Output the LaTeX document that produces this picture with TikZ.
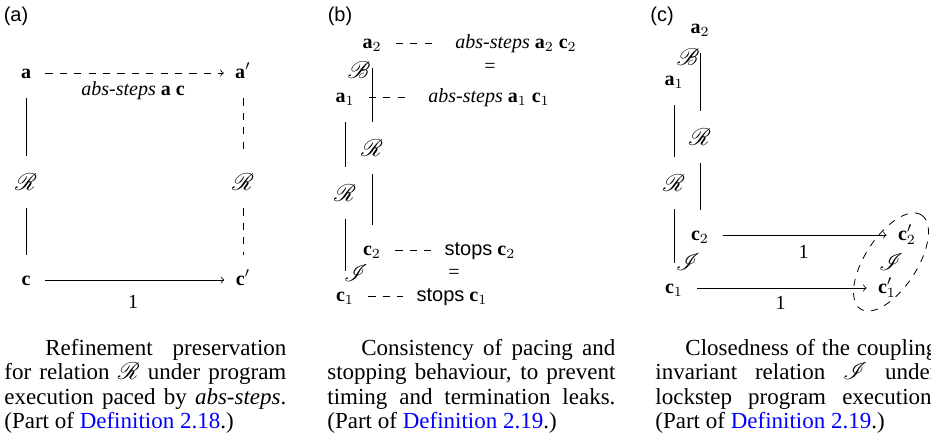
\documentclass[tikz,border=0pt]{standalone}
\usepackage{fontspec}
\setmainfont{Liberation Serif}
\setsansfont{Liberation Sans}
\usepackage{amsmath}
\usepackage{mathrsfs}
\usepackage{tikz}

\newcommand{\vb}[1]{\textbf{#1}}
\newcommand{\abssteps}{\textit{abs-steps}}
\newcommand{\capscr}[1]{\smash{\fontsize{12.8pt}{12pt}\selectfont$\mathscr{#1}$}}

\begin{document}
\begin{tikzpicture}[x=0.5pt, y=-0.5pt,
  st/.style={inner sep=0pt, text height=7pt, text depth=2pt},
  sc/.style={inner sep=0pt, text height=9pt, text depth=1pt,
    font=\fontsize{12.5pt}{15pt}\selectfont},
  tag/.style={inner sep=0pt, font=\sffamily},
  rel/.style={shorten <=8pt, shorten >=8pt},
  dsh/.style={dash pattern=on 3.6pt off 3.6pt},
  mv/.style={->, shorten <=7pt, shorten >=5.5pt},
  tie/.style={dsh, shorten <=7pt, shorten >=#1}, tie/.default=6.5pt,
  captxt/.style={anchor=base west, inner sep=0pt, text width=#1, align=justify,
    font=\fontsize{11.5pt}{12.25pt}\selectfont}]
\useasboundingbox (0,0) rectangle (931,446);

% (a)
\node[tag] (alab) at (16,16) {(a)};
\node[st] (a)   at (26,73)  {\vb{a}};
\node[st] (ap)  at (243,73) {\vb{a}$'$};
\node[sc] (aR)  at (26,182) {$\mathscr{R}$};
\node[sc] (aRp) at (243,182) {$\mathscr{R}$};
\node[st] (c)   at (26,280) {\vb{c}};
\node[st] (cp)  at (243,280) {\vb{c}$'$};
\draw[mv, dsh] (a) -- (ap)
    node[midway, below=4pt, inner sep=0pt] {\abssteps{} \vb{a} \vb{c}};
\draw[mv] (c) -- (cp)
    node[midway, below=7.5pt, inner sep=0pt] {1};
\draw[rel] (a) -- (aR);
\draw[rel] (aR) -- (c);
\draw[rel, dsh] (ap) -- (aRp);
\draw[rel, dsh] (aRp) -- (cp);

% (b)
\node[tag] (blab) at (340,16) {(b)};
\node[st] (b-a2)   at (372,43)  {\vb{a}$_2$};
\node[st] (b-abs2) at (516,43)  {\abssteps{} \vb{a}$_2$ \vb{c}$_2$};
\node[st] (b-eq1)  at (490,67)  {=};
\node[sc] (b-B)    at (359,70)  {$\mathscr{B}$};
\node[st] (b-a1)   at (345,97)  {\vb{a}$_1$};
\node[st] (b-abs1) at (489,97)  {\abssteps{} \vb{a}$_1$ \vb{c}$_1$};
\node[sc] (b-Rr)   at (372,148) {$\mathscr{R}$};
\node[sc] (b-Rl)   at (345,193) {$\mathscr{R}$};
\node[st] (b-c2)   at (372,250) {\vb{c}$_2$};
\node[st] (b-st2)  at (480,250) {\textsf{stops} \vb{c}$_2$};
\node[st] (b-eq2)  at (454,273) {=};
\node[sc] (b-I)    at (356,273) {$\mathscr{I}$};
\node[st] (b-c1)   at (345,296) {\vb{c}$_1$};
\node[st] (b-st1)  at (452,296) {\textsf{stops} \vb{c}$_1$};
\draw[tie=11pt] (b-a2) -- (b-abs2);
\draw[tie=11pt] (b-a1) -- (b-abs1);
\draw[tie] (b-c2) -- (b-st2);
\draw[tie] (b-c1) -- (b-st1);
\draw[rel] (b-a2) -- (b-Rr);
\draw[rel] (b-Rr) -- (b-c2);
\draw[rel] (b-a1) -- (b-Rl);
\draw[rel] (b-Rl) -- (b-c1);

% (c)
\node[tag] (clab) at (662,16) {(c)};
\node[st] (c-a2)  at (700,28)  {\vb{a}$_2$};
\node[sc] (c-B)   at (688,57)  {$\mathscr{B}$};
\node[st] (c-a1)  at (674,80)  {\vb{a}$_1$};
\node[sc] (c-Rr)  at (700,137) {$\mathscr{R}$};
\node[sc] (c-Rl)  at (674,183) {$\mathscr{R}$};
\node[st] (c-c2)  at (700,235) {\vb{c}$_2$};
\node[sc] (c-I)   at (688,262) {$\mathscr{I}$};
\node[st] (c-c1)  at (674,288) {\vb{c}$_1$};
\node[st] (c-c2p) at (907,235) {\vb{c}$'_2$};
\node[sc] (c-Ie)  at (891,262) {$\mathscr{I}$};
\node[st] (c-c1p) at (887,288) {\vb{c}$'_1$};
\draw[rel] (c-a2) -- (c-Rr);
\draw[rel] (c-Rr) -- (c-c2);
\draw[rel] (c-a1) -- (c-Rl);
\draw[rel] (c-Rl) -- (c-c1);
\draw[mv] (c-c2) -- (c-c2p)
    node[midway, below=5pt, inner sep=0pt] {1};
\draw[mv] (c-c1) -- (c-c1p)
    node[midway, below=4pt, inner sep=0pt] {1};
\draw[dsh, rotate around={57:(891,262)}] (891,262) ellipse [x radius=56, y radius=26];

% captions
\node[captxt=141pt] (capa) at (4,355) {\hspace*{20.5pt}Refinement preservation\linebreak
  for relation \capscr{R} under program\linebreak
  execution paced by \abssteps.\linebreak
  (Part of \textcolor{blue}{Definition 2.18}.)};
\node[captxt=144pt] (capb) at (327,355) {\hspace*{17pt}Consistency of pacing and\linebreak
  stopping behaviour, to prevent\linebreak
  timing and termination leaks.\linebreak
  (Part of \textcolor{blue}{Definition 2.19}.)};
\node[captxt=141pt] (capc) at (655,355) {\hspace*{15pt}Closedness of the coupling\linebreak
  invariant relation \capscr{I} under\linebreak
  lockstep program execution.\linebreak
  (Part of \textcolor{blue}{Definition 2.19}.)};
\end{tikzpicture}
\end{document}
